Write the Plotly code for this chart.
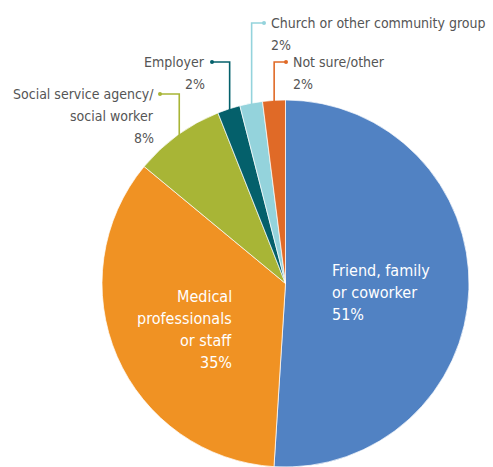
import math
import plotly.graph_objects as go

# Where people heard about the service (share of respondents, %)
categories = [
    "Friend, family or coworker",
    "Medical professionals or staff",
    "Social service agency/social worker",
    "Employer",
    "Church or other community group",
    "Not sure/other",
]
shares = [51, 35, 8, 2, 2, 2]
slice_colors = ["#5182C3", "#F09223", "#A8B536", "#04606B", "#94D3DC", "#E06A27"]

# Label lines drawn for each slice
inside_labels = {
    0: ["Friend, family", "or coworker", "51%"],
    1: ["Medical", "professionals", "or staff", "35%"],
}
outside_labels = {
    2: ["Social service agency/", "social worker", "8%"],
    3: ["Employer", "2%"],
    4: ["Church or other community group", "2%"],
    5: ["Not sure/other", "2%"],
}

W, H = 493, 467
CX, CY, R = 285.5, 283.5, 183.5
FONT = "DejaVu Sans Condensed, Liberation Sans Narrow, sans-serif"
GREY = "#555555"
LINE_GAP = 22


def px(x):
    return x / W


def py(y):
    return 1 - y / H


def text_block(lines, x, first_y, side, color, size):
    out = []
    for k, line in enumerate(lines):
        out.append(dict(
            x=px(x), y=py(first_y + k * LINE_GAP), xref="paper", yref="paper",
            text=line, showarrow=False, xanchor=side, yanchor="middle",
            align=side, font=dict(family=FONT, size=size, color=color),
        ))
    return out


fig = go.Figure(
    go.Pie(
        labels=categories,
        values=shares,
        sort=False,
        direction="clockwise",
        rotation=0,
        marker=dict(colors=slice_colors, line=dict(color="white", width=0.7)),
        textinfo="none",
        hoverinfo="skip",
        domain=dict(x=[px(CX - R), px(CX + R)], y=[0, py(CY - R)]),
        showlegend=False,
    )
)

annotations = []
shapes = []

# Inside labels (white text on the two large slices)
inside_pos = {0: (330, 270, "left"), 1: (234, 296, "right")}
for i, lines in inside_labels.items():
    x, y, side = inside_pos[i]
    annotations += text_block(lines, x, y, side, "white", 16)

# Outside labels with elbow leader lines ending in a dot
# (label-row y, dot x, text x, side)
outside_pos = {
    2: (94, 160, 156, "right"),
    3: (62, 212, 207, "right"),
    4: (23, 264, 269, "left"),
    5: (62, 286, 291, "left"),
}
total = sum(shares)
cum = 0.0
mids = []
for v in shares:
    mids.append((cum + v / 2) / total)
    cum += v

for i, lines in outside_labels.items():
    row_y, dot_x, text_x, side = outside_pos[i]
    theta = 2 * math.pi * mids[i]
    ex = CX + R * 0.985 * math.sin(theta)
    ey = CY - R * 0.985 * math.cos(theta)
    col = slice_colors[i]
    shapes.append(dict(
        type="path", xref="paper", yref="paper",
        path=f"M {px(ex)} {py(ey)} L {px(ex)} {py(row_y)} L {px(dot_x)} {py(row_y)}",
        line=dict(color=col, width=1.6),
    ))
    shapes.append(dict(
        type="circle", xref="paper", yref="paper",
        x0=px(dot_x - 2), x1=px(dot_x + 2), y0=py(row_y + 2), y1=py(row_y - 2),
        fillcolor=col, line=dict(color=col, width=0),
    ))
    annotations += text_block(lines, text_x, row_y, side, GREY, 14)

fig.update_layout(
    width=W, height=H,
    margin=dict(l=0, r=0, t=0, b=0),
    paper_bgcolor="white", plot_bgcolor="white",
    annotations=annotations, shapes=shapes,
)

fig.write_html("out.html")
